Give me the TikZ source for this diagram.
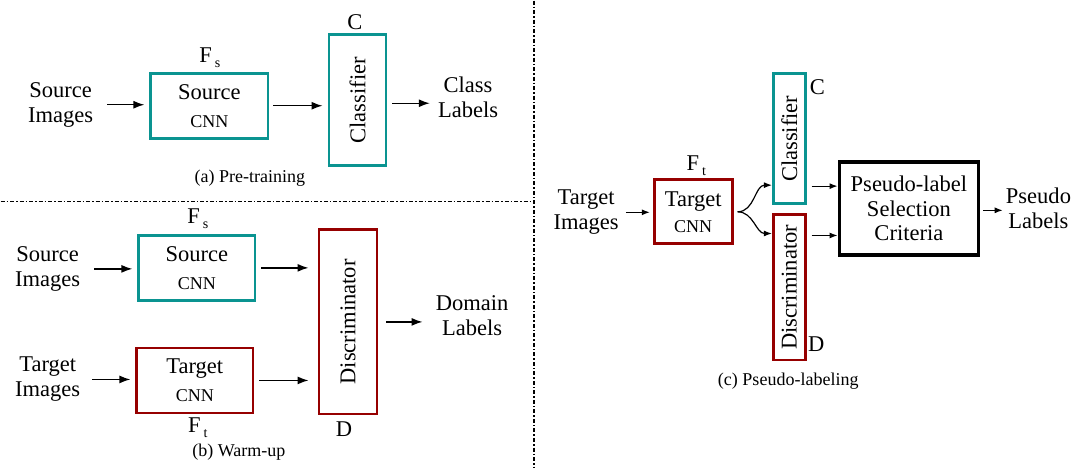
\documentclass[tikz,border=0pt]{standalone}
\usepackage{fontspec}
\setmainfont{Liberation Serif}
\usetikzlibrary{arrows.meta,positioning}
\definecolor{srcteal}{RGB}{10,148,145}
\definecolor{tgtred}{RGB}{150,0,0}
\newcommand\lblfont{\fontsize{22.5}{25}\selectfont}
\newcommand\cnnfont{\fontsize{18}{20}\selectfont}
\newcommand\subs[1]{\hspace{3pt}\raisebox{-5pt}{\fontsize{14}{14}\selectfont #1}}

\begin{document}
\begin{tikzpicture}[x=1pt, y=-1pt, >={Latex[length=11pt,width=8pt]},
    every node/.style={font=\lblfont, inner sep=3pt},
    lbl/.style={align=center},
    flbl/.style={inner sep=0pt},
    capt/.style={font=\cnnfont, inner sep=0pt},
    cnnbox/.style={draw, line width=2.7pt, align=center, minimum height=65pt},
    srcbox/.style={cnnbox, draw=srcteal},
    tgtbox/.style={cnnbox, draw=tgtred},
    headbox/.style={draw, line width=2.7pt, inner sep=0pt},
    critbox/.style={draw, line width=3.5pt, align=center, font=\fontsize{22.5}{24.5}\selectfont},
    arr/.style={->, line width=1.4pt, shorten <=5pt, shorten >=5pt},
    arrc/.style={-{Latex[length=8pt,width=6pt]}, line width=1.2pt},
    sep/.style={line width=1.3pt, dash pattern=on 4pt off 2pt on 1.5pt off 2pt}]

    % separators
    \draw[sep] (0,201) -- (530,201);
    \draw[sep] (533,0) -- (533,466);

    % (a) pre-training
    \node[lbl] (srcImgA) at (60,104) {Source\\Images};
    \node[srcbox, minimum width=117pt] (srcA) at (208.5,105) {Source\\[3pt]{\cnnfont CNN}};
    \node[flbl] (fsA) at (209,57) {F\subs{s}};
    \node[headbox, draw=srcteal, minimum width=57pt, minimum height=131pt] (clsA) at (356.5,99.5) {\rotatebox{90}{Classifier}};
    \node (cA) at (354,21) {C};
    \node[lbl] (clsLblA) at (467,96.5) {Class\\Labels};
    \node[capt] (capA) at (249,177) {(a) Pre-training};
    \draw[arr, shorten <=11pt] (srcImgA.east) -- (srcImgA.east -| srcA.west);
    \draw[arr, shorten <=4pt] (srcA.east) -- (srcA.east -| clsA.west);
    \draw[arr] ([yshift=-3pt]clsA.east) -- ([yshift=-3pt]clsA.east -| clsLblA.west);

    % (b) warm-up
    \node[lbl] (srcImgB) at (47,268) {Source\\Images};
    \node[srcbox, minimum width=116pt] (srcB) at (196,267) {Source\\[3pt]{\cnnfont CNN}};
    \node[flbl] (fsB) at (197,218) {F\subs{s}};
    \node[lbl] (tgtImgB) at (47,378.5) {Target\\Images};
    \node[tgtbox, minimum width=116pt] (tgtB) at (194,379.5) {Target\\[3pt]{\cnnfont CNN}};
    \node[flbl] (ftB) at (197,427) {F\subs{t}};
    \node[headbox, draw=tgtred, minimum width=58pt, minimum height=184pt] (discB) at (347,321) {\rotatebox{90}{Discriminator}};
    \node (dB) at (343,428) {D};
    \node[lbl] (domLblB) at (471,315) {Domain\\Labels};
    \node[capt] (capB) at (238,451) {(b) Warm-up};
    \draw[arr, shorten <=11pt] (srcImgB.east) -- (srcImgB.east -| srcB.west);
    \draw[arr, shorten <=9pt] (tgtImgB.east) -- (tgtImgB.east -| tgtB.west);
    \draw[arr, shorten >=9pt] (srcB.east) -- (srcB.east -| discB.west);
    \draw[arr, shorten >=9pt] (tgtB.east) -- (tgtB.east -| discB.west);
    \draw[arr, shorten <=8pt, shorten >=10pt] (discB.east) -- (discB.east -| domLblB.west);

    % (c) pseudo-labeling
    \node[lbl] (tgtImgC) at (585,211.5) {Target\\Images};
    \node[tgtbox, minimum width=78pt, minimum height=64pt, inner sep=1pt] (tgtC) at (692,211) {Target\\[1pt]{\cnnfont CNN}};
    \node[flbl] (ftC) at (695,165) {F\subs{t}};
    \node[headbox, draw=srcteal, minimum width=32pt, minimum height=130pt] (clsC) at (788,138) {\rotatebox{90}{Classifier}};
    \node (cC) at (816,86) {C};
    \node[headbox, draw=tgtred, minimum width=32pt, minimum height=145pt] (discC) at (788,286.5) {\rotatebox{90}{Discriminator}};
    \node (dC) at (815,343) {D};
    \node[critbox, minimum width=139pt, minimum height=93pt] (critC) at (907.5,207.5) {Pseudo-label\\Selection\\Criteria};
    \node[lbl] (psLblC) at (1037,207.5) {Pseudo\\Labels};
    \node[capt] (capC) at (787,380) {(c) Pseudo-labeling};
    \draw[arrc, shorten <=4pt, shorten >=3pt] (tgtImgC.east) -- (tgtImgC.east -| tgtC.west);
    \draw[arrc] ([xshift=4pt]tgtC.east) to[out=0, in=180] ([yshift=20pt]clsC.south west);
    \draw[arrc] ([xshift=4pt]tgtC.east) to[out=0, in=180] ([yshift=-20pt]discC.north west);
    \draw[arrc, shorten <=5pt] ([yshift=19pt]clsC.south east) -- ([yshift=19pt]clsC.south east -| critC.west);
    \draw[arrc, shorten <=5pt] ([yshift=-22pt]discC.north east) -- ([yshift=-22pt]discC.north east -| critC.west);
    \draw[arrc, shorten <=3pt] ([yshift=-2pt]critC.east) -- ([yshift=-2pt]critC.east -| psLblC.west);
\end{tikzpicture}
\end{document}
